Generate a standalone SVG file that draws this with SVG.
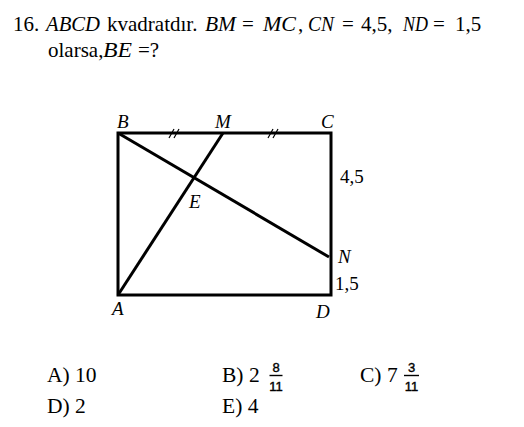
<svg xmlns="http://www.w3.org/2000/svg" width="524" height="427" viewBox="0 0 524 427">
<style>
.t{font-family:"Liberation Serif",serif;font-size:21px;fill:#000}
.a{font-family:"Liberation Serif",serif;font-size:21.5px;fill:#000}
.m{font-family:"Liberation Serif",serif;font-style:italic;font-size:21px;fill:#000}
.lb{font-family:"Liberation Serif",serif;font-style:italic;font-size:19px;fill:#000}
.n{font-family:"Liberation Serif",serif;font-size:19px;fill:#000}
.fr{font-family:"Liberation Sans",sans-serif;font-size:13px;fill:#000;stroke:#000;stroke-width:0.4}
.ln{stroke:#000;stroke-width:3;fill:none}
.tk{stroke:#000;stroke-width:1.2;fill:none}
</style>
<rect width="524" height="427" fill="#fff"/>
<g id="question">
<text class="t" x="13" y="31">16.</text>
<text class="m" x="46" y="31" textLength="54" lengthAdjust="spacingAndGlyphs">ABCD</text>
<text class="t" x="107" y="31">kvadratdır.</text>
<text class="m" x="205" y="31" textLength="31" lengthAdjust="spacingAndGlyphs">BM</text>
<text class="t" x="242" y="31">=</text>
<text class="m" x="263" y="31" textLength="33" lengthAdjust="spacingAndGlyphs">MC</text>
<text class="t" x="298" y="31">,</text>
<text class="m" x="308" y="31" textLength="26" lengthAdjust="spacingAndGlyphs">CN</text>
<text class="t" x="342" y="31">=</text>
<text class="t" x="361" y="31">4,5,</text>
<text class="m" x="403" y="31" textLength="25" lengthAdjust="spacingAndGlyphs">ND</text>
<text class="t" x="433" y="31">=</text>
<text class="t" x="455" y="31">1,5</text>
<text class="t" x="48" y="57">olarsa,</text>
<text class="m" x="103" y="57" textLength="29" lengthAdjust="spacingAndGlyphs">BE</text>
<text class="t" x="138" y="57">=?</text>
</g>
<g id="square">
<rect class="ln" x="118" y="133" width="213" height="162"/>
</g>
<g id="connectors">
<line class="ln" x1="118" y1="133" x2="329" y2="257"/>
<line class="ln" x1="118" y1="295" x2="223" y2="133"/>
<path class="tk" d="M169 138 L174 129 M174 138 L179 129 M268 138 L273 129 M273 138 L278 129"/>
</g>
<g id="labels">
<text class="lb" x="117" y="128">B</text>
<text class="lb" x="215" y="128">M</text>
<text class="lb" x="321" y="128">C</text>
<text class="lb" x="189" y="208">E</text>
<text class="lb" x="338" y="263">N</text>
<text class="lb" x="112" y="315">A</text>
<text class="lb" x="316" y="318">D</text>
<text class="n" x="340" y="183">4,5</text>
<text class="n" x="335" y="290">1,5</text>
</g>
<g id="answers">
<text class="a" x="47" y="382">A) 10</text>
<text class="a" x="222" y="382">B) 2</text>
<text class="fr" x="276" y="372" text-anchor="middle">8</text>
<line x1="269.5" y1="375.5" x2="282.5" y2="375.5" stroke="#000" stroke-width="1.4"/>
<text class="fr" x="276" y="391" text-anchor="middle">11</text>
<text class="a" x="360" y="382">C) 7</text>
<text class="fr" x="411.5" y="372" text-anchor="middle">3</text>
<line x1="404" y1="375.5" x2="419" y2="375.5" stroke="#000" stroke-width="1.4"/>
<text class="fr" x="411.5" y="391" text-anchor="middle">11</text>
<text class="a" x="47" y="413">D) 2</text>
<text class="a" x="222" y="413">E) 4</text>
</g>
</svg>
